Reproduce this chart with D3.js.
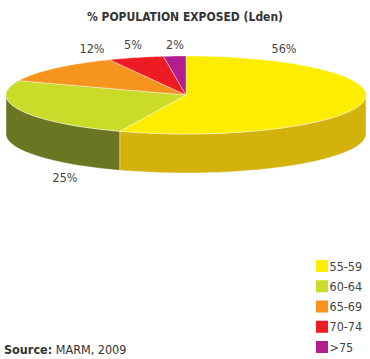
<!DOCTYPE html>
<html><head><meta charset="utf-8">
<script src="https://cdn.jsdelivr.net/npm/d3@7"></script>
<style>body{margin:0;background:#fff}svg{display:block}</style>
</head><body>
<svg id="c" width="370" height="359"></svg>
<script>
const categories = ["55-59","60-64","65-69","70-74",">75"];
const values = [56,25,12,5,2];
const valueLabels = ["56%","25%","12%","5%","2%"];
const colors = ["#FFED00","#CADB2A","#F7941E","#ED1C24","#B31E8E"];
const sideColors = ["#D4B20C","#6B7622","#B86A10","#A8141A","#7E1565"];

const svg = d3.select("#c");
const cx=186, cy=95, rx=180, ry=39, depth=39;
const fontF = "'DejaVu Sans Condensed','Open Sans',sans-serif";

svg.append("text").attr("x",185).attr("y",21).attr("text-anchor","middle")
  .attr("font-family",fontF).attr("font-weight","bold").attr("font-size",12)
  .attr("fill","#333").text("% POPULATION EXPOSED (Lden)");

const arcs = d3.pie().sort(null).value(d=>d)(values);
const P = (t,dy=0)=>[cx+rx*Math.sin(t), cy-ry*Math.cos(t)+dy];
const N=60;
function edge(a0,a1,dy){const pts=[];for(let i=0;i<=N;i++){pts.push(P(a0+(a1-a0)*i/N,dy));}return pts;}
const line = d3.line();

const g = svg.append("g");
arcs.forEach((a,i)=>{
  const s=Math.max(a.startAngle,Math.PI/2), e=Math.min(a.endAngle,3*Math.PI/2);
  if(e<=s) return;
  const top=edge(s,e,0), bot=edge(e,s,depth);
  g.append("path").attr("d",line(top.concat(bot))+"Z").attr("fill",sideColors[i])
   .attr("stroke","#fff").attr("stroke-width",0.4);
});
arcs.forEach((a,i)=>{
  const pts=[[cx,cy]].concat(edge(a.startAngle,a.endAngle,0));
  g.append("path").attr("d",line(pts)+"Z").attr("fill",colors[i])
   .attr("stroke","#fff").attr("stroke-width",0.4).attr("stroke-linejoin","round");
});

const labelPos=[[284,53],[65,182],[92,53],[133,49],[175,49]];
valueLabels.forEach((t,i)=>{
  svg.append("text").attr("x",labelPos[i][0]).attr("y",labelPos[i][1]).attr("text-anchor","middle")
   .attr("font-family",fontF).attr("font-size",12.5).attr("fill","#444").text(t);
});

const ly = d3.scalePoint().domain(categories).range([266,347]);
const lg = svg.append("g");
categories.forEach((c,i)=>{
  lg.append("rect").attr("x",316).attr("y",ly(c)-6).attr("width",12).attr("height",12).attr("fill",colors[i]);
  lg.append("text").attr("x",329.5).attr("y",ly(c)+4.5).attr("font-family",fontF).attr("font-size",12.5)
    .attr("fill","#444").text(c);
});

const src = svg.append("text").attr("x",4).attr("y",354).attr("font-family",fontF).attr("font-size",12.5).attr("fill","#333");
src.append("tspan").attr("font-weight","bold").text("Source:");
src.append("tspan").text(" MARM, 2009");
</script>
</body></html>
